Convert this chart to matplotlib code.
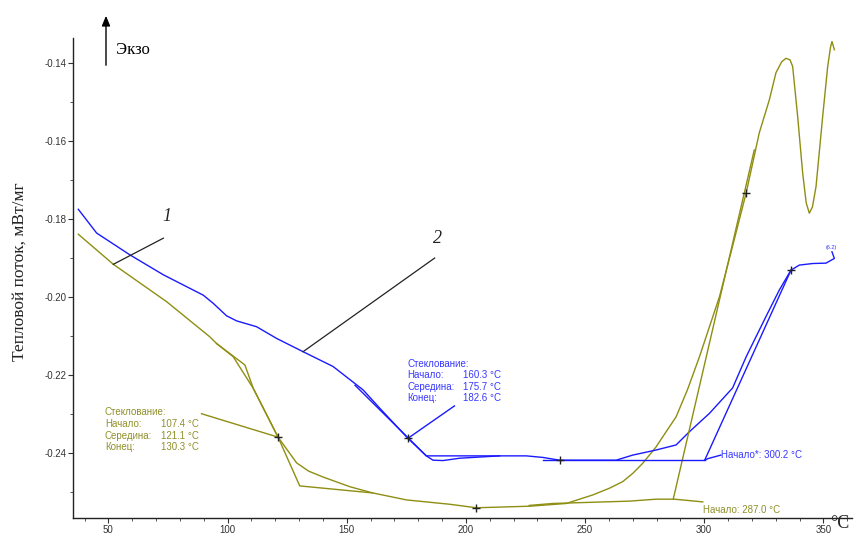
import matplotlib
matplotlib.use("Agg")
import matplotlib.pyplot as plt
from matplotlib.ticker import MultipleLocator, FixedLocator

# ---------------- data ----------------
# curve 1 (olive)
t1 = [37.4, 52.1, 74.5, 92.6, 95.4, 102.4, 110.8, 121.2, 129.0, 134.0, 140.0, 151.3,
      160.9, 175.2, 193.2, 204.4, 226.7, 242.1, 253.3, 260.2, 265.8, 270.0, 274.2,
      279.8, 283.7, 288.2, 293.0, 298.0, 306.4, 312.0, 317.6, 323.1, 327.3, 330.1,
      332.5, 334.3, 336.0, 337.1, 339.2, 341.3, 342.8, 344.1, 345.4, 346.9, 349.7,
      351.8, 353.0, 353.6, 354.6]
v1 = [-0.1840, -0.1917, -0.2013, -0.2103, -0.2120, -0.2154, -0.2235, -0.2360, -0.2426,
      -0.2447, -0.2462, -0.2487, -0.2503, -0.2521, -0.2532, -0.2541, -0.2537, -0.2530,
      -0.2508, -0.2491, -0.2474, -0.2453, -0.2427, -0.2385, -0.2349, -0.2308, -0.2238,
      -0.2154, -0.2000, -0.1868, -0.1734, -0.1580, -0.1496, -0.1426, -0.1398, -0.1389,
      -0.1393, -0.1410, -0.1538, -0.1683, -0.1760, -0.1786, -0.1770, -0.1718, -0.1538,
      -0.1410, -0.1360, -0.1346, -0.1367]

# curve 2 (blue)
t2 = [37.4, 45.1, 59.1, 73.1, 89.8, 94.0, 99.6, 103.8, 112.2, 120.6, 131.7, 144.3,
      156.9, 163.9, 175.7, 183.4, 186.2, 190.4, 197.4, 214.2, 225.4, 232.3, 239.3,
      263.1, 270.0, 279.8, 288.2, 293.8, 302.2, 311.9, 317.6, 325.9, 331.5, 336.4,
      339.9, 345.5, 351.1, 354.6, 353.6]
v2 = [-0.1776, -0.1837, -0.1893, -0.1944, -0.1996, -0.2017, -0.2049, -0.2062, -0.2077,
      -0.2107, -0.2141, -0.2179, -0.2239, -0.2286, -0.2363, -0.2408, -0.2419, -0.2420,
      -0.2414, -0.2408, -0.2408, -0.2412, -0.2419, -0.2419, -0.2406, -0.2393, -0.2380,
      -0.2346, -0.2299, -0.2234, -0.2154, -0.2051, -0.1983, -0.1932, -0.1919, -0.1915,
      -0.1914, -0.1902, -0.1885]

# evaluation constructions, curve 1
c1_base_t = [89.1, 121.2]
c1_base_v = [-0.2300, -0.2360]
c1_tan_t = [95.4, 107.3, 110.8, 121.2, 130.3, 160.9]
c1_tan_v = [-0.2120, -0.2175, -0.2235, -0.2360, -0.2485, -0.2503]
c1_on_base_t = [226.6, 236.5, 268.6, 279.8, 287.5, 291.0, 299.4]
c1_on_base_v = [-0.2535, -0.2530, -0.2524, -0.2519, -0.2519, -0.2521, -0.2526]
c1_on_tan_t = [287.0, 321.0]
c1_on_tan_v = [-0.2519, -0.1624]

# evaluation constructions, curve 2
c2_tan_t = [153.5, 183.4, 214.2]
c2_tan_v = [-0.2227, -0.2408, -0.2408]
c2_on_base_t = [232.3, 300.2]
c2_on_base_v = [-0.2419, -0.2419]
c2_on_tan_t = [300.2, 336.4]
c2_on_tan_v = [-0.2419, -0.1932]
c2_lead_t = [175.7, 195.2]
c2_lead_v = [-0.2363, -0.2280]
c2_on_lead_t = [300.2, 301.6, 307.0]
c2_on_lead_v = [-0.2419, -0.2415, -0.2406]

# marker points
m1_t = [121.2, 204.4, 317.6]
m1_v = [-0.2360, -0.2541, -0.1734]
m2_t = [175.7, 239.3, 336.4]
m2_v = [-0.2363, -0.2419, -0.1932]

# leaders for curve numbers
lead1_t = [52.1, 73.1]
lead1_v = [-0.1917, -0.1850]
lead2_t = [131.7, 186.9]
lead2_v = [-0.2141, -0.1901]

x_ticks = [50, 100, 150, 200, 250, 300, 350]
y_ticks = [-0.24, -0.22, -0.20, -0.18, -0.16, -0.14]
y_tick_labels = ["-0.24", "-0.22", "-0.20", "-0.18", "-0.16", "-0.14"]

OLIVE = "#8e8e12"
OLIVE_TXT = "#90902a"
BLUE = "#1a1aff"
BLUE_TXT = "#3838ff"

# ---------------- figure ----------------
fig = plt.figure(figsize=(8.55, 5.34), dpi=100)
W, H = 855, 534
ax = fig.add_axes([73.3 / W, 1 - 518.3 / H, (852 - 73.3) / W, (518.3 - 38) / H])
ax.set_xlim(35.3, 362)
ax.set_ylim(-0.2568, -0.1337)

for s in ["top", "right"]:
    ax.spines[s].set_visible(False)
for s in ["left", "bottom"]:
    ax.spines[s].set_linewidth(1.0)
    ax.spines[s].set_color("#222222")

ax.xaxis.set_major_locator(FixedLocator(x_ticks))
ax.xaxis.set_minor_locator(MultipleLocator(10))
ax.yaxis.set_major_locator(FixedLocator(y_ticks))
ax.set_yticklabels(y_tick_labels)
ax.yaxis.set_minor_locator(MultipleLocator(0.01))
ax.tick_params(which="major", direction="out", length=3.5, width=0.8, color="#333333",
               labelsize=7, labelcolor="#333333", pad=1.5)
ax.tick_params(which="minor", direction="out", length=2.5, width=0.7, color="#555555")
for lab in ax.get_xticklabels() + ax.get_yticklabels():
    lab.set_family("Liberation Sans")

lw = 1.0
ax.plot(t1, v1, color=OLIVE, lw=lw)
ax.plot(t2, v2, color=BLUE, lw=lw)

ax.plot(c1_base_t, c1_base_v, color=OLIVE, lw=lw)
ax.plot(c1_tan_t, c1_tan_v, color=OLIVE, lw=lw)
ax.plot(c1_on_base_t, c1_on_base_v, color=OLIVE, lw=lw)
ax.plot(c1_on_tan_t, c1_on_tan_v, color=OLIVE, lw=lw)

ax.plot(c2_tan_t, c2_tan_v, color=BLUE, lw=lw)
ax.plot(c2_on_base_t, c2_on_base_v, color=BLUE, lw=lw)
ax.plot(c2_on_tan_t, c2_on_tan_v, color=BLUE, lw=lw)
ax.plot(c2_lead_t, c2_lead_v, color=BLUE, lw=lw)
ax.plot(c2_on_lead_t, c2_on_lead_v, color=BLUE, lw=lw)

ax.plot(m1_t, m1_v, "+", color="#222222", ms=6, mew=1.0)
ax.plot(m2_t, m2_v, "+", color="#222222", ms=6, mew=1.0)

ax.plot(lead1_t, lead1_v, color="#222222", lw=0.9)
ax.plot(lead2_t, lead2_v, color="#222222", lw=0.9)

ax.text(74.5, -0.1795, "1", family="Liberation Serif", style="italic", fontsize=13,
        ha="center", va="center", color="#222222")
ax.text(188.0, -0.1850, "2", family="Liberation Serif", style="italic", fontsize=13,
        ha="center", va="center", color="#222222")

# evaluation labels
sf = dict(family="Liberation Sans", fontsize=7, va="center")
x_l1, x_v1 = 48.5, 71.9
rows1 = [("Стеклование:", None), ("Начало:", "107.4 °C"), ("Середина:", "121.1 °C"),
         ("Конец:", "130.3 °C")]
ys1 = [-0.2296, -0.2326, -0.2356, -0.2386]
for (a, b), yy in zip(rows1, ys1):
    ax.text(x_l1, yy, a, color=OLIVE_TXT, **sf)
    if b:
        ax.text(x_v1, yy, b, color=OLIVE_TXT, **sf)

x_l2, x_v2 = 175.5, 198.8
ys2 = [-0.2173, -0.2201, -0.2231, -0.2260]
rows2 = [("Стеклование:", None), ("Начало:", "160.3 °C"), ("Середина:", "175.7 °C"),
         ("Конец:", "182.6 °C")]
for (a, b), yy in zip(rows2, ys2):
    ax.text(x_l2, yy, a, color=BLUE_TXT, **sf)
    if b:
        ax.text(x_v2, yy, b, color=BLUE_TXT, **sf)

ax.text(307.2, -0.2406, "Начало*: 300.2 °C", color=BLUE_TXT, **sf)
ax.text(299.6, -0.2548, "Начало: 287.0 °C", color=OLIVE_TXT, **sf)
ax.text(353.3, -0.1880, "(6.2)", color=BLUE_TXT, family="Liberation Sans", fontsize=4,
        ha="center", va="bottom")

# Exo arrow & axis labels
fig.patches.append(matplotlib.patches.FancyArrowPatch(
    (106 / W, 1 - 68 / H), (106 / W, 1 - 13 / H), transform=fig.transFigure,
    arrowstyle="-|>,head_length=6,head_width=2.5", color="black", lw=1.0))
fig.text(116 / W, 1 - 50 / H, "Экзо", family="Liberation Serif", fontsize=12,
         va="center", ha="left")
fig.text(20 / W, 1 - 272 / H, "Тепловой поток, мВт/мг", family="Liberation Serif",
         fontsize=12.5, rotation=90, va="center", ha="center", color="#222222")
fig.text(840 / W, 1 - 524 / H, "°C", family="Liberation Serif", fontsize=13,
         va="center", ha="center", color="#222222")

fig.savefig("out.png", dpi=100)
